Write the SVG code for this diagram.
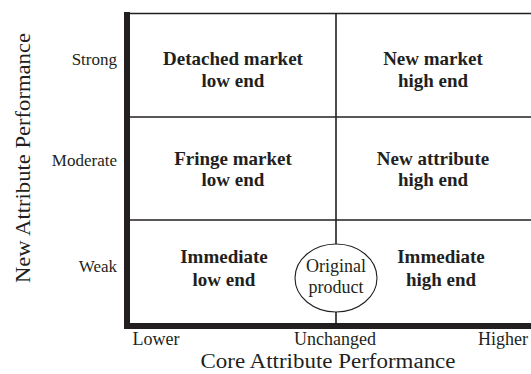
<svg xmlns="http://www.w3.org/2000/svg" width="531" height="374" viewBox="0 0 531 374">
<style>
.grid{stroke:#231f20;stroke-width:1.6;fill:none}
.axis{fill:#231f20}
.lbl{font-family:"Liberation Serif","Times New Roman",serif;font-size:17px;fill:#231f20}
.tick{font-family:"Liberation Serif","Times New Roman",serif;font-size:18px;fill:#231f20;text-anchor:middle}
.title{font-family:"Liberation Serif","Times New Roman",serif;font-size:20px;fill:#231f20;text-anchor:middle}
.cell{font-family:"Liberation Serif","Times New Roman",serif;font-size:19px;font-weight:bold;fill:#231f20;text-anchor:middle}
</style>
<rect width="531" height="374" fill="#fff"/>
<g id="connectors">
<line class="grid" x1="127" y1="13.5" x2="531" y2="13.5"/>
<line class="grid" x1="127" y1="117" x2="531" y2="117"/>
<line class="grid" x1="127" y1="220" x2="531" y2="220"/>
<line class="grid" x1="336" y1="13" x2="336" y2="324"/>
<rect class="axis" x="124" y="12" width="6" height="317"/>
<rect class="axis" x="124" y="323" width="407" height="6"/>
</g>
<g id="axis-labels">
<text class="lbl" x="117" y="65" text-anchor="end">Strong</text>
<text class="lbl" x="117" y="166" text-anchor="end">Moderate</text>
<text class="lbl" x="117" y="272" text-anchor="end">Weak</text>
<text class="tick" x="156" y="345">Lower</text>
<text class="tick" x="335" y="345">Unchanged</text>
<text class="tick" x="503" y="345">Higher</text>
<text class="title" x="328" y="368" textLength="255" lengthAdjust="spacingAndGlyphs">Core Attribute Performance</text>
<text class="title" transform="translate(30,158) rotate(-90)" x="0" y="0" textLength="250" lengthAdjust="spacingAndGlyphs">New Attribute Performance</text>
</g>
<g id="detached-market">
<text class="cell" x="233" y="65">Detached market</text>
<text class="cell" x="233" y="87">low end</text>
</g>
<g id="new-market">
<text class="cell" x="433" y="65">New market</text>
<text class="cell" x="433" y="87">high end</text>
</g>
<g id="fringe-market">
<text class="cell" x="233" y="165">Fringe market</text>
<text class="cell" x="233" y="186">low end</text>
</g>
<g id="new-attribute">
<text class="cell" x="433" y="165">New attribute</text>
<text class="cell" x="433" y="186">high end</text>
</g>
<g id="immediate-low">
<text class="cell" x="224" y="263">Immediate</text>
<text class="cell" x="224" y="286">low end</text>
</g>
<g id="immediate-high">
<text class="cell" x="441" y="263">Immediate</text>
<text class="cell" x="441" y="286">high end</text>
</g>
<g id="original-product">
<ellipse cx="336" cy="278" rx="41" ry="34" fill="#fff" stroke="#231f20" stroke-width="1.1"/>
<text class="tick" x="336" y="272">Original</text>
<text class="tick" x="336" y="293">product</text>
</g>
</svg>
